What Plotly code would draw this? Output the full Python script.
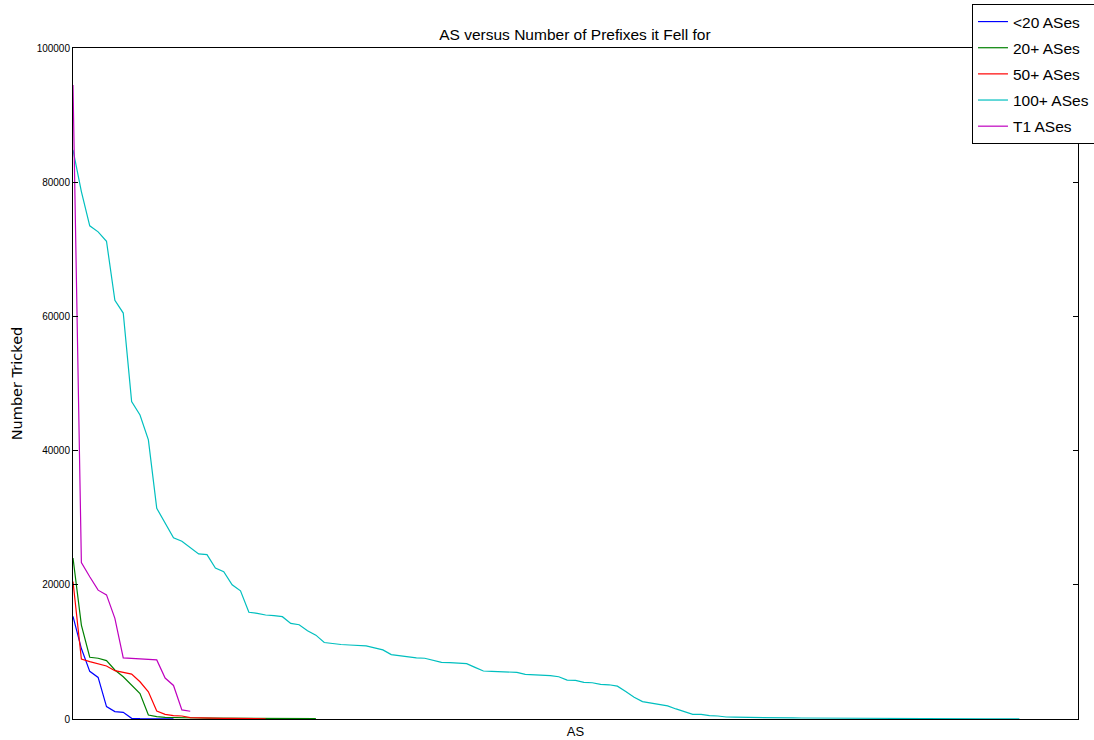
import plotly.graph_objects as go

series_names = ["<20 ASes", "20+ ASes", "50+ ASes", "100+ ASes", "T1 ASes"]
colors = ["#0000FF", "#008000", "#FF0000", "#00BFBF", "#BF00BF"]

lt20 = [15300, 10500, 7100, 6200, 1850, 1100, 1000, 100, 50, 30, 20, 10, 5]

plus20 = [24000, 14000, 9200, 9050, 8700, 7300, 6300, 5050, 3800, 600,
          350, 250, 200, 180, 160, 150, 140, 130, 120, 110,
          100, 95, 90, 85, 80, 75, 70, 65, 60, 55]

plus50 = [20500, 8950, 8550, 8200, 7900, 7200, 6950, 6700, 5550, 4050,
          1200, 700, 500, 450, 200, 150, 120, 100, 90, 80,
          70, 60, 50, 40]

plus100 = [84800, 78600, 73500, 72600, 71200, 62400, 60500, 47300, 45300, 41600,
           31400, 29200, 27000, 26500, 25600, 24600, 24500, 22500, 21950, 20000,
           19100, 15900, 15750, 15500, 15400, 15250, 14250, 14050, 13160, 12500,
           11400, 11200, 11100, 11030, 11000, 10900, 10600, 10300, 9600, 9430,
           9300, 9100, 9050, 8700, 8450, 8400, 8350, 8250, 7700, 7150,
           7100, 7050, 7000, 6950, 6650, 6600, 6550, 6450, 6300, 5800,
           5750, 5450, 5400, 5150, 5100, 4900, 4100, 3250, 2600, 2400,
           2100, 1950, 1500, 1100, 700, 700, 500,
           450, 300, 270, 240, 220, 200, 190, 180, 170, 160,
           150, 140, 135, 130, 125, 120, 115, 110, 100, 95,
           90, 85, 80, 75, 70, 65, 60, 55, 50, 45,
           40, 35, 30, 25, 20, 15, 10]

t1 = [94500, 23300, 21200, 19200, 18500, 15000, 9100, 9050, 9000, 8950,
      8800, 6100, 5000, 1350, 1150]

y_ticks = [0, 20000, 40000, 60000, 80000, 100000]

all_series = [lt20, plus20, plus50, plus100, t1]

SANS = "Liberation Sans, Arial, sans-serif"

fig = go.Figure()
for i, (name, color, vals) in enumerate(zip(series_names, colors, all_series)):
    fig.add_trace(go.Scatter(
        x=list(range(len(vals))), y=vals, mode="lines", name=name,
        legendgroup=f"g{i}",
        line=dict(color=color, width=1.2),
    ))

fig.update_layout(
    width=1094, height=740,
    margin=dict(l=73, r=16, t=48, b=21, autoexpand=False),
    paper_bgcolor="white", plot_bgcolor="white",
    title=dict(text="AS versus Number of Prefixes it Fell for",
               x=0.5255, xanchor="center", y=1 - 35 / 740, yanchor="middle",
               yref="container", font=dict(family=SANS, size=15.5, color="black")),
    showlegend=True,
    legend=dict(x=0.8945, y=(719 - 4) / 671, xanchor="left", yanchor="top",
                bgcolor="white", bordercolor="black", borderwidth=1,
                font=dict(family=SANS, size=15.5, color="black"),
                tracegroupgap=3),
)

fig.update_xaxes(
    range=[0, 120], showgrid=False, zeroline=False,
    showticklabels=False, ticks="", automargin=False,
    showline=True, linecolor="black", linewidth=1, mirror=True,
    title=dict(text="AS", font=dict(family=SANS, size=13, color="black"), standoff=7),
)
fig.update_yaxes(
    range=[0, 100000], showgrid=False, zeroline=False, automargin=False,
    tickvals=y_ticks, ticktext=[str(v) for v in y_ticks],
    ticks="inside", ticklen=5, tickcolor="black",
    tickfont=dict(family=SANS, size=10, color="black"),
    showline=True, linecolor="black", linewidth=1, mirror="ticks",
    title=dict(text="Number Tricked", font=dict(family="DejaVu Sans", size=14.5, color="black"), standoff=10),
)

fig.write_html("out.html", config={"displayModeBar": False},
               post_script="document.body.style.margin='0';")
